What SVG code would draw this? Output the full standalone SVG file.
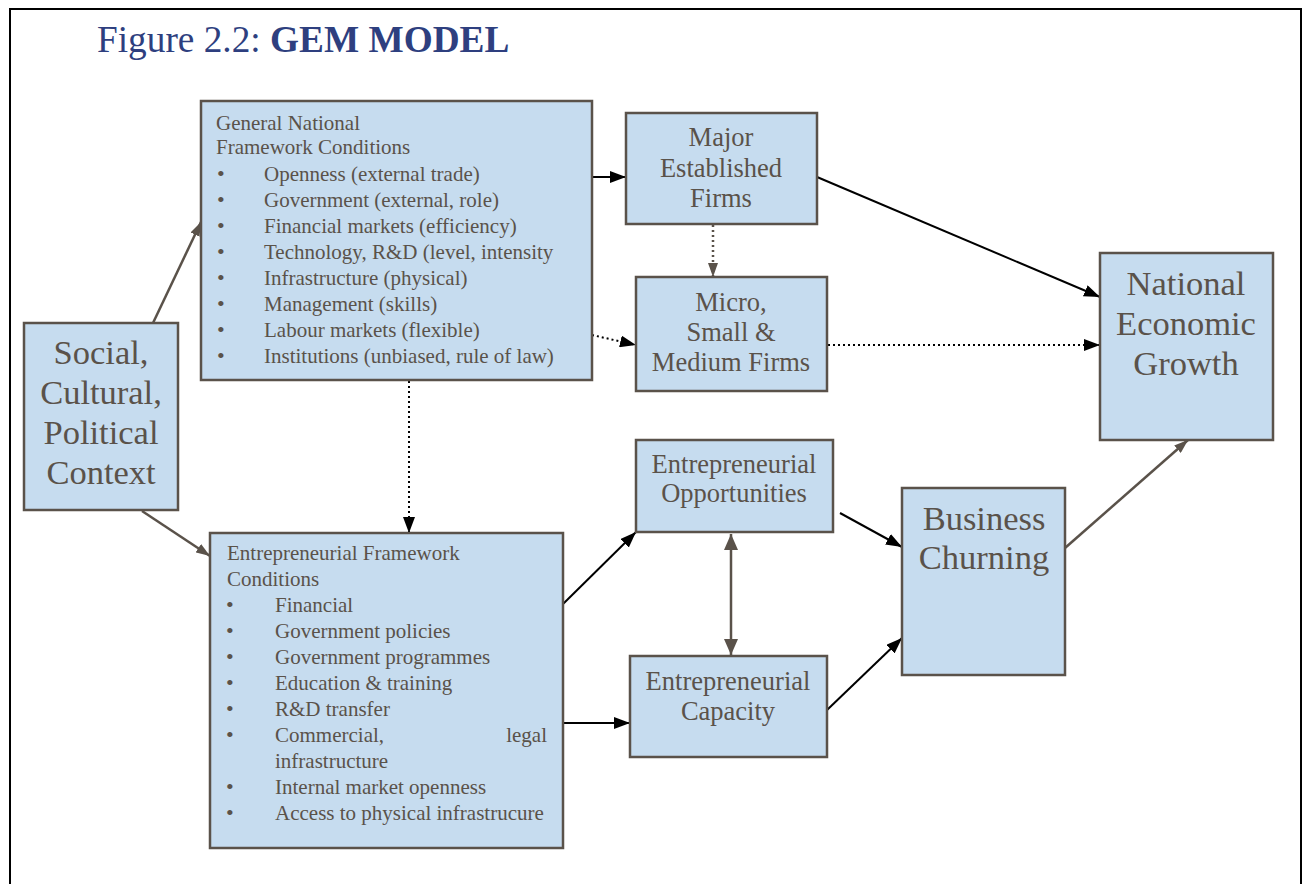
<svg xmlns="http://www.w3.org/2000/svg" width="1308" height="884" viewBox="0 0 1308 884">
<defs>
<marker id="ak" markerWidth="16" markerHeight="12" refX="16" refY="6" orient="auto" markerUnits="userSpaceOnUse"><path d="M0,0 L16,6 L0,12 z" fill="#000"/></marker>
<marker id="ab" markerWidth="14" markerHeight="10" refX="14" refY="5" orient="auto" markerUnits="userSpaceOnUse"><path d="M0,0 L14,5 L0,10 z" fill="#5a524a"/></marker>
<marker id="abs" markerWidth="16" markerHeight="14" refX="16" refY="7" orient="auto-start-reverse" markerUnits="userSpaceOnUse"><path d="M0,0 L16,7 L0,14 z" fill="#5a524a"/></marker>
</defs>
<style>
.box{fill:#c6dcef;stroke:#5a524a;stroke-width:2.5}
.t{font-family:"Liberation Serif",serif;fill:#5a524a}
.s{font-size:21px}
.b{font-size:22px}
.m{font-size:26.5px;text-anchor:middle}
.l{font-size:34.5px;text-anchor:middle}
.bk{stroke:#000;stroke-width:2;fill:none}
.br{stroke:#5a524a;stroke-width:2.5;fill:none}
.dt{stroke-dasharray:2,3}
</style>
<rect width="1308" height="884" fill="#fff"/>
<path d="M10,884 V9 H1301 V884" fill="none" stroke="#000" stroke-width="2"/>
<text x="97" y="52" font-family="Liberation Serif,serif" font-size="37.3" fill="#2e3f7f">Figure 2.2: <tspan font-weight="bold">GEM MODEL</tspan></text>

<g id="connectors">
<line class="br" x1="153" y1="323" x2="201" y2="222" marker-end="url(#ab)"/>
<line class="br" x1="142" y1="511" x2="210" y2="556" marker-end="url(#ab)"/>
<line class="bk" x1="592" y1="177" x2="626" y2="177" marker-end="url(#ak)"/>
<line class="bk dt" x1="592" y1="335" x2="636" y2="345" marker-end="url(#ak)"/>
<line class="bk dt" x1="409" y1="381" x2="409" y2="533" marker-end="url(#ak)"/>
<line class="br dt" x1="713" y1="225" x2="713" y2="277" marker-end="url(#ab)"/>
<line class="bk" x1="817" y1="177" x2="1100" y2="297" marker-end="url(#ak)"/>
<line class="bk dt" x1="828" y1="345" x2="1100" y2="345" marker-end="url(#ak)"/>
<line class="bk" x1="563" y1="604" x2="636" y2="532" marker-end="url(#ak)"/>
<line class="bk" x1="563" y1="723" x2="630" y2="723" marker-end="url(#ak)"/>
<line class="br" x1="731" y1="534" x2="731" y2="655" marker-start="url(#abs)" marker-end="url(#abs)"/>
<line class="bk" x1="840" y1="513" x2="902" y2="547" marker-end="url(#ak)"/>
<line class="bk" x1="827" y1="710" x2="902" y2="638" marker-end="url(#ak)"/>
<line class="br" x1="1065" y1="548" x2="1188" y2="440" marker-end="url(#ab)"/>
</g>

<g id="gnfc">
<rect class="box" x="201" y="101" width="391" height="279"/>
<text class="t s" x="216" y="130">General National</text>
<text class="t s" x="216" y="154">Framework Conditions</text>
<g class="t s">
<text class="b" x="217" y="181">•</text><text x="264" y="181">Openness (external trade)</text>
<text class="b" x="217" y="207">•</text><text x="264" y="207">Government (external, role)</text>
<text class="b" x="217" y="233">•</text><text x="264" y="233">Financial markets (efficiency)</text>
<text class="b" x="217" y="259">•</text><text x="264" y="259">Technology, R&amp;D (level, intensity</text>
<text class="b" x="217" y="285">•</text><text x="264" y="285">Infrastructure (physical)</text>
<text class="b" x="217" y="311">•</text><text x="264" y="311">Management (skills)</text>
<text class="b" x="217" y="337">•</text><text x="264" y="337">Labour markets (flexible)</text>
<text class="b" x="217" y="363">•</text><text x="264" y="363">Institutions (unbiased, rule of law)</text>
</g>
</g>

<g id="major">
<rect class="box" x="626" y="113" width="191" height="111"/>
<text class="t m" x="721" y="146">Major</text>
<text class="t m" x="721" y="177">Established</text>
<text class="t m" x="721" y="207">Firms</text>
</g>

<g id="msm">
<rect class="box" x="636" y="277" width="191" height="114"/>
<text class="t m" x="731" y="311">Micro,</text>
<text class="t m" x="731" y="341">Small &amp;</text>
<text class="t m" x="731" y="371">Medium Firms</text>
</g>

<g id="social">
<rect class="box" x="24" y="323" width="154" height="187"/>
<text class="t l" x="101" y="364">Social,</text>
<text class="t l" x="101" y="404">Cultural,</text>
<text class="t l" x="101" y="444">Political</text>
<text class="t l" x="101" y="484">Context</text>
</g>

<g id="efc">
<rect class="box" x="210" y="533" width="353" height="315"/>
<text class="t s" x="227" y="560">Entrepreneurial Framework</text>
<text class="t s" x="227" y="586">Conditions</text>
<g class="t s">
<text class="b" x="226" y="612">•</text><text x="275" y="612">Financial</text>
<text class="b" x="226" y="638">•</text><text x="275" y="638">Government policies</text>
<text class="b" x="226" y="664">•</text><text x="275" y="664">Government programmes</text>
<text class="b" x="226" y="690">•</text><text x="275" y="690">Education &amp; training</text>
<text class="b" x="226" y="716">•</text><text x="275" y="716">R&amp;D transfer</text>
<text class="b" x="226" y="742">•</text><text x="275" y="742">Commercial,</text><text x="547" y="742" text-anchor="end">legal</text>
<text x="275" y="768">infrastructure</text>
<text class="b" x="226" y="794">•</text><text x="275" y="794">Internal market openness</text>
<text class="b" x="226" y="820">•</text><text x="275" y="820">Access to physical infrastrucure</text>
</g>
</g>

<g id="entopp">
<rect class="box" x="636" y="440" width="197" height="92"/>
<text class="t m" x="734" y="473">Entrepreneurial</text>
<text class="t m" x="734" y="502">Opportunities</text>
</g>

<g id="entcap">
<rect class="box" x="630" y="656" width="197" height="101"/>
<text class="t m" x="728" y="690">Entrepreneurial</text>
<text class="t m" x="728" y="720">Capacity</text>
</g>

<g id="churning">
<rect class="box" x="902" y="488" width="163" height="187"/>
<text class="t l" x="984" y="530">Business</text>
<text class="t l" x="984" y="569">Churning</text>
</g>

<g id="growth">
<rect class="box" x="1100" y="253" width="173" height="187"/>
<text class="t l" x="1186" y="295">National</text>
<text class="t l" x="1186" y="335">Economic</text>
<text class="t l" x="1186" y="375">Growth</text>
</g>
</svg>
